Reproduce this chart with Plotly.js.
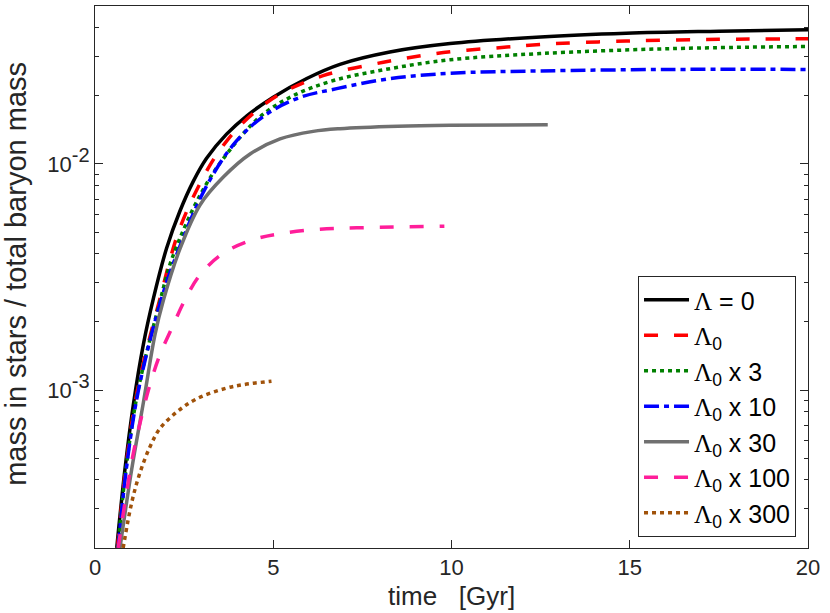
<!DOCTYPE html>
<html>
<head>
<meta charset="utf-8">
<script src="https://cdn.plot.ly/plotly-3.0.1.min.js"></script>
<style>
  html, body { margin: 0; padding: 0; background: #fff; }
  #chart { width: 830px; height: 613px; }
</style>
</head>
<body>
<div id="chart"></div>
<script>
// time [Gyr] and mass fraction, one pair per run
var t_zero   = [0.61, 0.84, 1.07, 1.36, 1.64, 2.01, 2.38, 2.76, 3.13, 3.69, 4.26, 5.0, 5.94, 6.87, 8.27, 9.96, 12.5, 14.9, 17.5, 20];
var m_zero   = [2.0e-4, 4.46e-4, 8.5e-4, 1.6e-3, 2.55e-3, 4.25e-3, 6.18e-3, 8.4e-3, 0.0106, 0.01355, 0.01634, 0.01975, 0.0239, 0.0276, 0.0313, 0.0341, 0.0365, 0.0379, 0.0387, 0.0393];

var t_l0     = [0.63, 0.86, 1.19, 1.80, 2.38, 3.13, 3.55, 4.07, 4.82, 5.47, 6.4, 8.09, 9.77, 11.55, 12.48, 14.9, 17.5, 20];
var m_l0     = [2.0e-4, 4.5e-4, 1.0e-3, 2.46e-3, 5.2e-3, 9.3e-3, 0.0118, 0.0148, 0.0187, 0.0215, 0.0246, 0.0282, 0.0311, 0.0329, 0.0338, 0.035, 0.0356, 0.0358];

var t_l3     = [0.64, 0.87, 1.21, 1.82, 2.15, 2.95, 3.69, 4.63, 5.56, 6.69, 8.27, 9.96, 12.48, 16.2, 20];
var m_l3     = [2.0e-4, 4.5e-4, 1.0e-3, 2.46e-3, 3.78e-3, 7.3e-3, 0.01104, 0.01618, 0.02005, 0.0234, 0.0264, 0.0289, 0.0308, 0.0324, 0.0331];

var t_l10    = [0.65, 0.88, 1.22, 1.84, 2.29, 3.13, 3.97, 4.82, 5.75, 6.78, 8.27, 9.96, 12.48, 16.2, 20];
var m_l10    = [2.0e-4, 4.5e-4, 1.0e-3, 2.46e-3, 3.97e-3, 8.0e-3, 0.01265, 0.01663, 0.0197, 0.02154, 0.02386, 0.0252, 0.0258, 0.0262, 0.0262];

var t_l30    = [0.70, 1.03, 1.36, 1.68, 1.92, 2.38, 2.95, 3.6, 4.35, 5.19, 6.12, 6.87, 8.5, 9.96, 12.7];
var m_l30    = [2.0e-4, 4.46e-4, 8.85e-4, 1.75e-3, 2.5e-3, 4.2e-3, 6.6e-3, 8.75e-3, 0.01107, 0.01291, 0.01394, 0.01433, 0.01469, 0.01483, 0.0149];

var t_l100   = [0.65, 0.84, 1.07, 1.36, 1.59, 1.82, 2.15, 2.52, 2.95, 3.6, 4.44, 5.28, 6.31, 7.34, 9.8];
var m_l100   = [2.0e-4, 3.18e-4, 5.2e-4, 8.26e-4, 1.12e-3, 1.43e-3, 1.87e-3, 2.5e-3, 3.24e-3, 4.03e-3, 4.63e-3, 4.94e-3, 5.15e-3, 5.22e-3, 5.30e-3];

var t_l300   = [0.79, 1.03, 1.26, 1.54, 1.82, 2.29, 2.85, 3.69, 4.16, 4.95];
var m_l300   = [2.0e-4, 3.18e-4, 4.3e-4, 5.6e-4, 6.75e-4, 7.98e-4, 9.14e-4, 1.02e-3, 1.056e-3, 1.094e-3];

var x_ticks  = [0, 5, 10, 15, 20];
var y_ticks  = [1e-3, 1e-2];
var y_labels = ['10<sup><span style="font-size:20px">-3</span></sup>',
                '10<sup><span style="font-size:20px">-2</span></sup>'];
var y_minor  = [3e-4, 4e-4, 5e-4, 6e-4, 7e-4, 8e-4, 9e-4,
                2e-3, 3e-3, 4e-3, 5e-3, 6e-3, 7e-3, 8e-3, 9e-3,
                2e-2, 3e-2, 4e-2];

var L = '<span style="font-family:\'Liberation Serif\'">\u039B</span>';

function curve(x, y, name, color, dash, width) {
   return {x: x,
           y: y,
           type: 'scatter',
           mode: 'lines',
           name: name,
           line: {color: color, dash: dash, width: width, shape: 'spline', smoothing: 1}};
}

var data = [
   curve(t_zero, m_zero, L + ' = 0', '#000000', 'solid', 3.5),
   curve(t_l0,   m_l0,   L + '<sub>0</sub>', '#ff0000', '14px,16px', 3.5),
   curve(t_l3,   m_l3,   L + '<sub>0</sub> x 3', '#008000', '4px,4px', 3.5),
   curve(t_l10,  m_l10,  L + '<sub>0</sub> x 10', '#0000ff', '15px,5px,5px,5px', 3.5),
   curve(t_l30,  m_l30,  L + '<sub>0</sub> x 30', '#707070', 'solid', 3.5),
   curve(t_l100, m_l100, L + '<sub>0</sub> x 100', '#ff1e9a', '14px,16px', 3.5),
   curve(t_l300, m_l300, L + '<sub>0</sub> x 300', '#a0520a', '4px,4px', 3.5)
];

var axisCol = '#262626';

var layout = {
   width: 830,
   height: 613,
   margin: {l: 95, r: 22, t: 6, b: 65},
   paper_bgcolor: '#ffffff',
   plot_bgcolor: '#ffffff',
   font: {family: 'Liberation Sans, Arial, sans-serif', size: 22, color: axisCol},
   showlegend: true,
   legend: {x: 0.7616, y: 0.5018, xanchor: 'left', yanchor: 'top',
            bgcolor: '#ffffff', bordercolor: axisCol, borderwidth: 1,
            font: {size: 25, color: '#000000'}, tracegroupgap: 0, itemwidth: 45},
   xaxis: {
      range: [0, 20],
      tickvals: x_ticks,
      ticks: 'inside', ticklen: 8, tickcolor: axisCol,
      showline: true, linecolor: axisCol, linewidth: 1, mirror: 'ticks',
      showgrid: false, zeroline: false
   },
   yaxis: {
      type: 'log',
      range: [Math.log10(2e-4), Math.log10(0.05)],
      tickvals: y_ticks,
      ticktext: y_labels,
      ticks: 'inside', ticklen: 8, tickcolor: axisCol,
      minor: {tickvals: y_minor, ticks: 'inside', ticklen: 4, tickcolor: axisCol, showgrid: false},
      showline: true, linecolor: axisCol, linewidth: 1, mirror: 'ticks',
      showgrid: false, zeroline: false
   },
   annotations: [
      {text: 'time\u00A0\u00A0\u00A0[Gyr]', xref: 'paper', yref: 'paper',
       x: 0.5, y: -0.089, xanchor: 'center', yanchor: 'middle',
       showarrow: false, font: {size: 26, color: axisCol}},
      {text: 'mass in stars / total baryon mass', xref: 'paper', yref: 'paper',
       x: -0.11, y: 0.505, xanchor: 'center', yanchor: 'middle', textangle: -90,
       showarrow: false, font: {size: 29, color: axisCol}}
   ]
};

Plotly.newPlot('chart', data, layout, {staticPlot: true});
</script>
</body>
</html>
